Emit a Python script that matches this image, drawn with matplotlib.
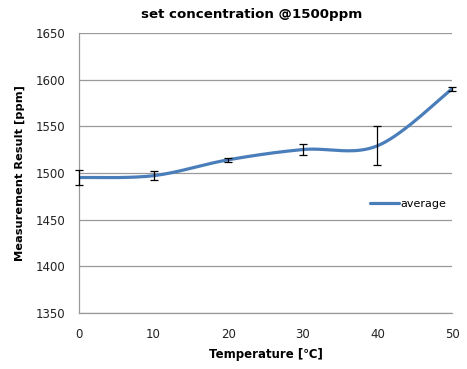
import numpy as np
import matplotlib
matplotlib.use("Agg")
import matplotlib.pyplot as plt

# ── DATA ──────────────────────────────────────────────────────────────────────
temperature = [0, 10, 20, 30, 40, 50]
average     = [1495, 1497, 1514, 1525, 1529, 1590]
error       = [8, 4.5, 2, 6, 21, 2]

LINE_BLUE = "#4a7ebb"
GRID_GRAY = "#9a9a9a"


def excel_smooth(xs, ys, n=40):
    """Bezier smoothing like Excel's 'smoothed line' option."""
    pts = np.column_stack([xs, ys]).astype(float)
    ext = np.vstack([pts[0], pts, pts[-1]])
    out = []
    t = np.linspace(0, 1, n)[:, None]
    for i in range(1, len(ext) - 2):
        p0, p1, p2, p3 = ext[i - 1], ext[i], ext[i + 1], ext[i + 2]
        c1 = p1 + (p2 - p0) / 6
        c2 = p2 - (p3 - p1) / 6
        seg = ((1 - t) ** 3) * p1 + 3 * ((1 - t) ** 2) * t * c1 \
            + 3 * (1 - t) * t ** 2 * c2 + t ** 3 * p2
        out.append(seg if i == 1 else seg[1:])
    out = np.vstack(out)
    return out[:, 0], out[:, 1]


# ── PLOT ──────────────────────────────────────────────────────────────────────
fig = plt.figure(figsize=(4.67, 3.69), dpi=100)
ax = fig.add_axes([0.169, 0.152, 0.799, 0.759])

sx, sy = excel_smooth(temperature, average)
ax.plot(sx, sy, color=LINE_BLUE, linewidth=2.3, label="average",
        solid_capstyle="round", zorder=3)
ax.errorbar(temperature, average, yerr=error, fmt="none", ecolor="black",
            elinewidth=0.9, capsize=3, capthick=0.9, zorder=4, clip_on=False)

ax.set_xlim(0, 50)
ax.set_ylim(1350, 1650)
ax.set_xticks(temperature)
ax.set_yticks(np.arange(1350, 1651, 50))
ax.grid(axis="y", color=GRID_GRAY, linewidth=0.9)
ax.set_axisbelow(True)
ax.tick_params(length=0, labelsize=8.5, colors="#222222")
ax.tick_params(axis="y", pad=9.5)
ax.tick_params(axis="x", pad=11)
ax.spines[["top", "right"]].set_visible(False)
ax.spines[["left", "bottom"]].set_color(GRID_GRAY)
ax.spines[["left", "bottom"]].set_linewidth(0.9)

ax.set_title("set concentration @1500ppm", fontsize=9.6, fontweight="bold",
             pad=11, x=0.464)
ax.set_xlabel("Temperature [\u2103]", fontsize=8.5, fontweight="bold", labelpad=5)
ax.set_ylabel("Measurement Result [ppm]", fontsize=8.2, fontweight="bold", labelpad=8)

ax.legend(loc="center right", bbox_to_anchor=(1.01, 0.39), frameon=False,
          fontsize=8, handlelength=2.6, handletextpad=0.1)

fig.savefig("out.png", dpi=100)
